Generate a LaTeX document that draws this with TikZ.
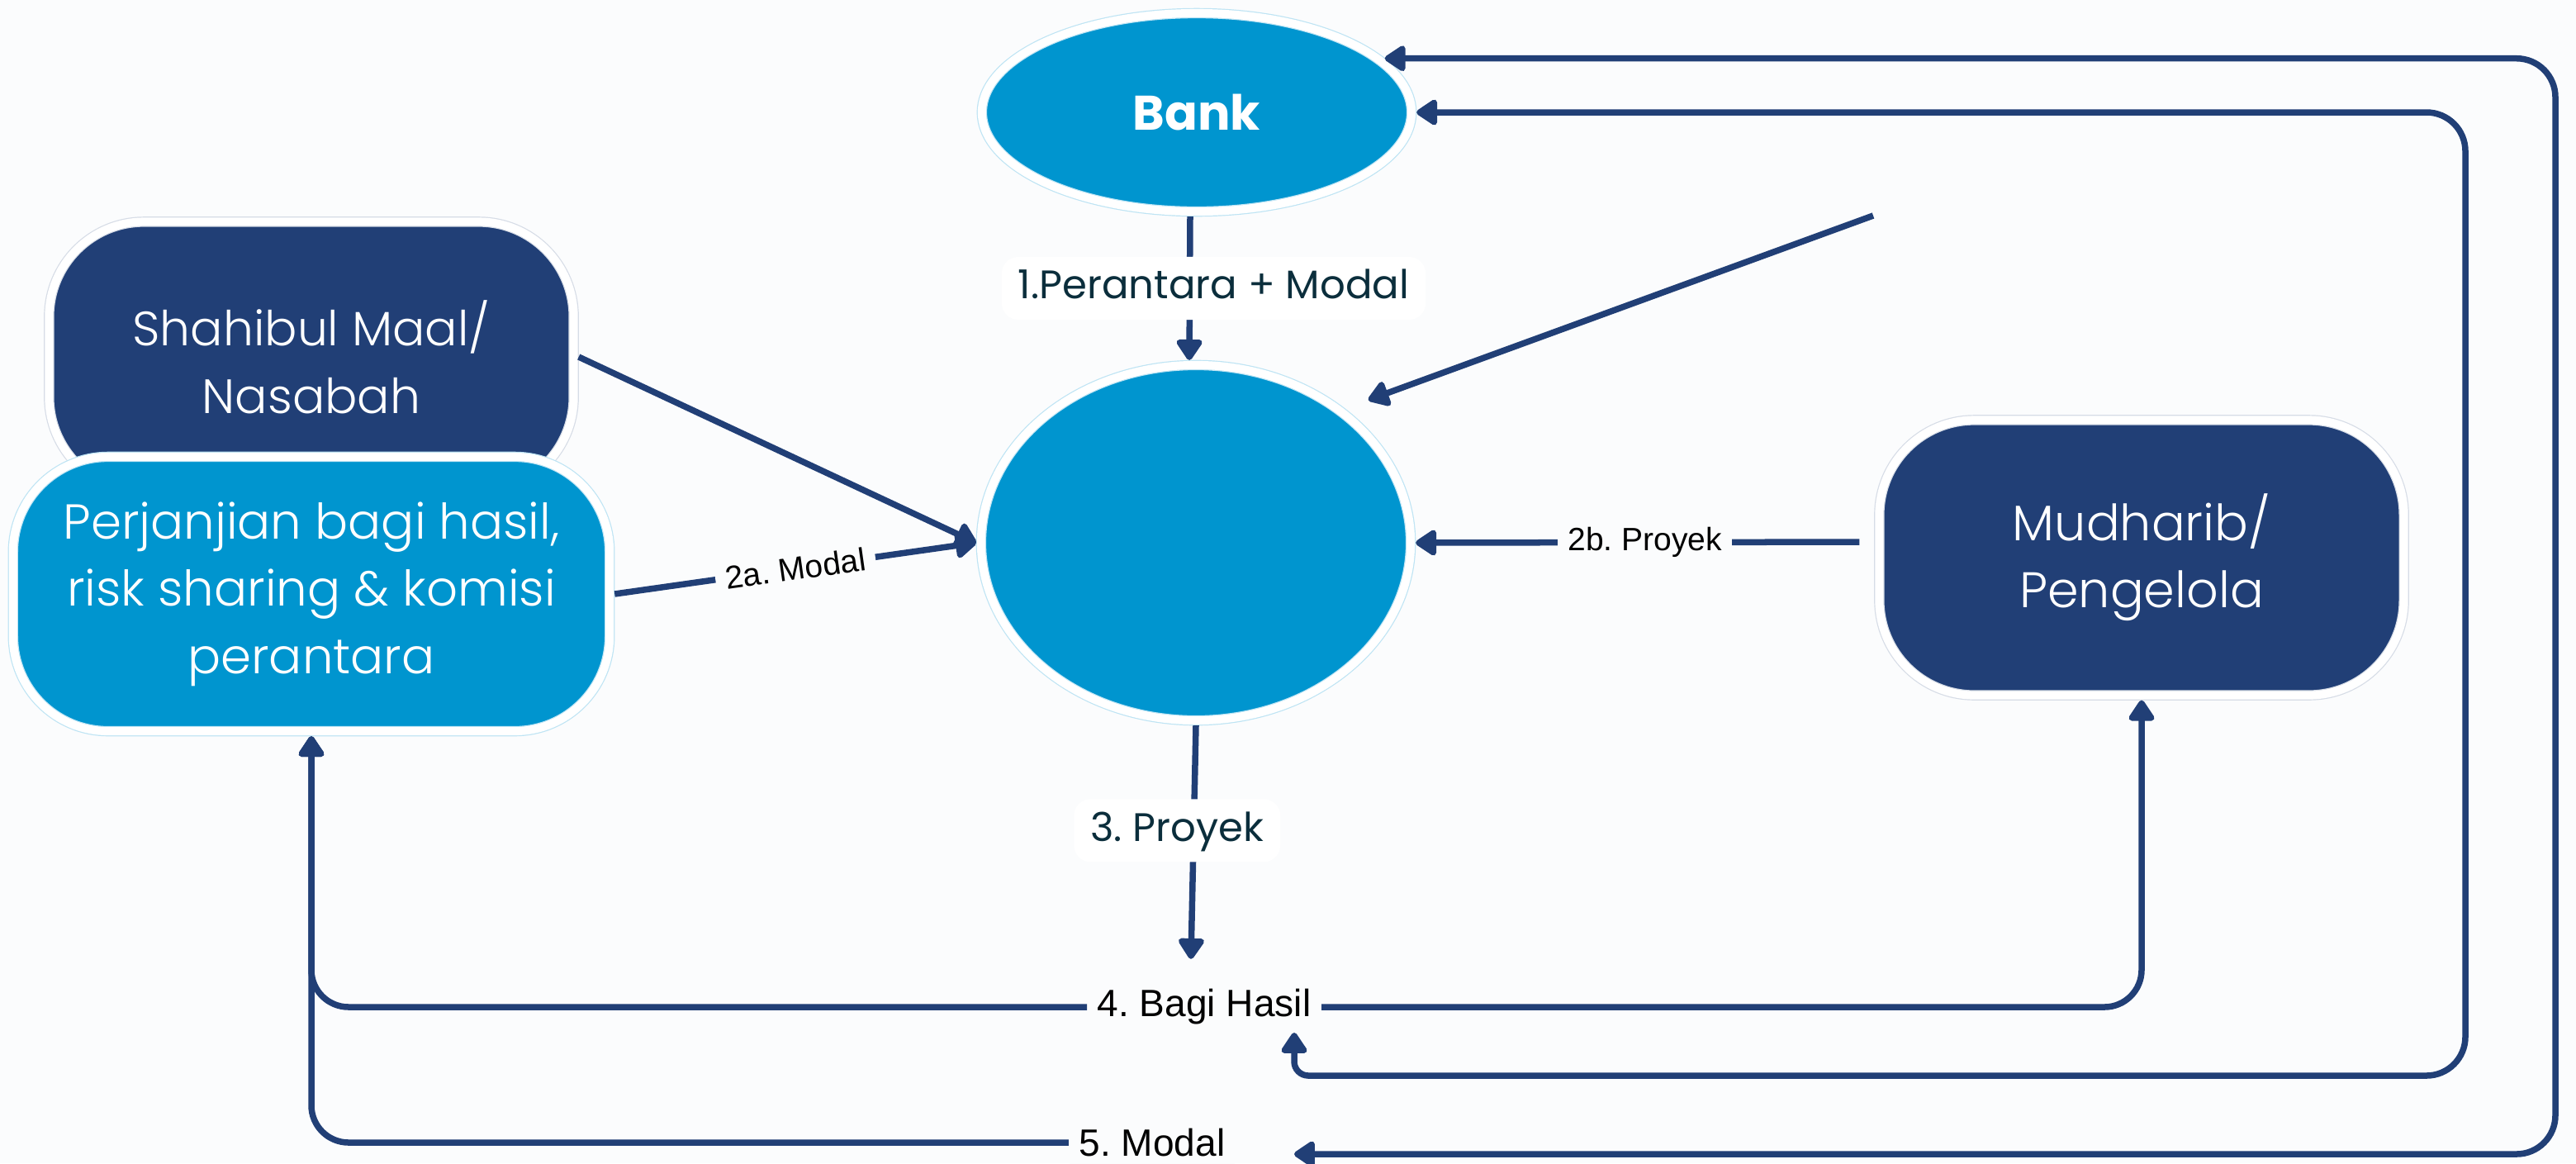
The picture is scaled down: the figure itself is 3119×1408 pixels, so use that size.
\documentclass[tikz,border=0pt]{standalone}
\usepackage{fontspec}
\setmainfont{Poppins}
\newfontfamily\thinfont{Poppins Light}
\newfontfamily\arialfont{Liberation Sans}
\usetikzlibrary{positioning,arrows.meta,shapes.geometric}
\frenchspacing

\definecolor{skyblue}{RGB}{0,149,207}
\definecolor{navy}{RGB}{33,63,118}
\definecolor{inkteal}{RGB}{11,46,60}
\definecolor{paper}{RGB}{251,252,253}
\definecolor{haloblue}{RGB}{190,228,244}
\definecolor{halogrey}{RGB}{214,220,230}

\begin{document}
\begin{tikzpicture}[
    x=0.01cm, y=-0.01cm,
    halo/.style={double=white, double distance=0.1cm, line width=0.012cm, outer sep=0.06cm},
    oval/.style={ellipse, halo, draw=haloblue, fill=skyblue, minimum width=5.2cm, inner sep=0},
    party/.style={halo, rounded corners=1.15cm, align=center, text=white, minimum width=6.35cm,
        font=\thinfont\fontsize{16.6}{23.3}\selectfont},
    arr/.style={draw=navy, line width=0.075cm, -{Triangle[round, length=2.8mm, width=3.5mm]}},
    arrboth/.style={arr, {Triangle[round, length=2.8mm, width=3.5mm]}-{Triangle[round, length=2.8mm, width=3.5mm]}},
    steplbl/.style={fill=white, rounded corners=0.2cm, text=inkteal, inner xsep=0.2cm, inner ysep=0.15cm,
        text height=0.36cm, text depth=0.1cm, font=\fontsize{13.7}{16}\selectfont},
    flowlbl/.style={fill=paper, inner xsep=0.12cm, inner ysep=0.1cm, font=\arialfont\fontsize{11.1}{13}\selectfont},
    sumlbl/.style={flowlbl, font=\arialfont\fontsize{13.1}{15}\selectfont}
]
\fill[paper] (0,0) rectangle (3119,1408);
\useasboundingbox (0,0) rectangle (3119,1408);

\node[oval, minimum height=2.4cm, text=white, font=\bfseries\fontsize{16.7}{20}\selectfont] (bank) at (1449,136) {Bank};
\node[oval, minimum height=4.3cm] (centre) at (1448,657) {};
\node[party, draw=halogrey, fill=navy, minimum height=3.27cm] (shah) at (377,432) {Shahibul Maal/\\Nasabah};
\node[party, draw=haloblue, fill=skyblue, minimum width=7.22cm, minimum height=3.32cm,
    font=\thinfont\fontsize{16.9}{23.2}\selectfont] (perj) at (377,719)
    {Perjanjian bagi hasil,\\risk sharing \& komisi\\perantara};
\node[party, draw=halogrey, fill=navy, minimum height=3.33cm, font=\thinfont\fontsize{17.2}{23}\selectfont] (mud) at (2593,675)
    {Mudharib/\\Pengelola};

\node[sumlbl] (four) at (1458,1219) {4. Bagi Hasil};
\node[sumlbl] (five) at (1395,1383) {5. Modal};

\coordinate (free) at (2268,261);
\coordinate (loopa) at (3094,1397);
\coordinate (loopb) at (2985,1302);
\coordinate (fivetip) at (1567,1397);
\coordinate (fourtip) at (1567,1250);

\draw[arr] ([xshift=-0.08cm]bank.south) -- node[steplbl, xshift=0.29cm] {1.Perantara + Modal} ([xshift=-0.08cm]centre.north);
\draw[arr] (shah.east) -- (centre.west);
\draw[arr] (perj.east) -- node[flowlbl, sloped] {2a. Modal} (centre.west);
\draw[arr, shorten <=0.18cm] ([yshift=0.19cm]mud.west) -- node[flowlbl] {2b. Proyek} (centre.east);
\draw[arr, shorten >=0.3cm] (free) -- (centre.42.5);
\draw[arr] (centre.south) -- node[steplbl, pos=0.45, xshift=-0.2cm] {3. Proyek} ([xshift=-0.16cm, yshift=0.26cm]four.north);

\draw[arr, rounded corners=0.45cm] (four.west) -| (perj.south);
\draw[arr, rounded corners=0.45cm] (four.east) -| (mud.south);
\draw[arr, rounded corners=0.45cm] (five.west) -| (perj.south);
\draw[arrboth, rounded corners=0.47cm] (bank.east) -| (loopb) [rounded corners=0.17cm] -| (fourtip);
\draw[arrboth, rounded corners=0.47cm] (bank.16) -| (loopa) -- (fivetip);
\end{tikzpicture}
\end{document}
